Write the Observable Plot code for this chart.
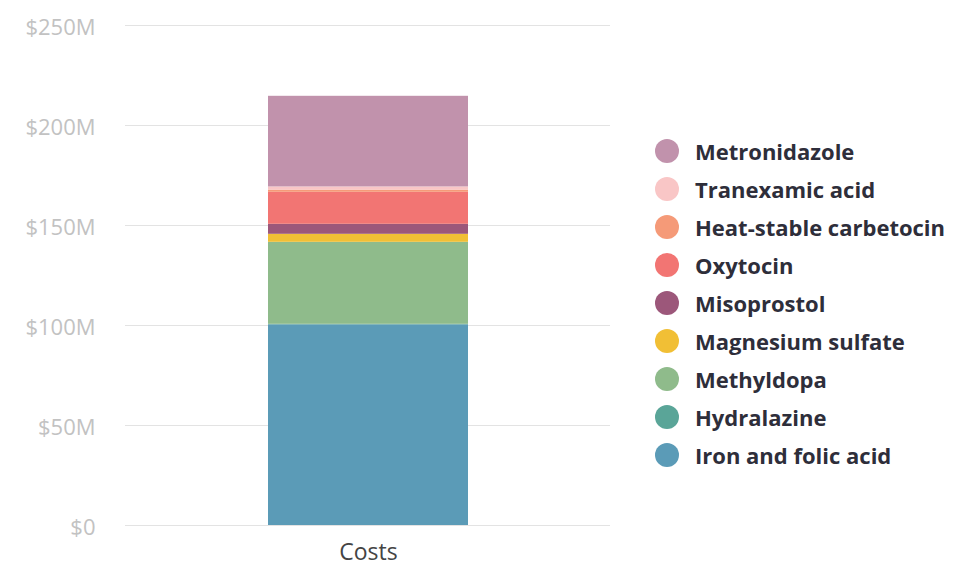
<!DOCTYPE html>
<html>
<head>
<meta charset="utf-8">
<script src="https://cdn.jsdelivr.net/npm/d3@7"></script>
<script src="https://cdn.jsdelivr.net/npm/@observablehq/plot@0.6"></script>
<style>
  html, body { margin: 0; padding: 0; background: #fff; }
  #wrap { position: relative; width: 954px; height: 570px; font-family: "Open Sans", sans-serif; }
  #legend { position: absolute; left: 655px; top: 132px; }
  .item { display: flex; align-items: center; height: 38px; font-weight: 700; font-size: 22px; color: #2e2e3a; white-space: nowrap; }
  .sw { width: 24px; height: 24px; border-radius: 50%; margin-right: 16px; flex: none; }
</style>
</head>
<body>
<div id="wrap"></div>
<script>
// Drugs listed bottom-to-top of the stack
const drugs = ["Iron and folic acid", "Hydralazine", "Methyldopa", "Magnesium sulfate", "Misoprostol", "Oxytocin", "Heat-stable carbetocin", "Tranexamic acid", "Metronidazole"];
const costsM = [100.3, 0.3, 41, 4, 5, 16, 1.1, 1.6, 45.3]; // $ millions
const colors = ["#5b9bb7", "#5aa598", "#8fbb8b", "#f1bf35", "#9c577a", "#f27573", "#f59a78", "#f9c6c6", "#c192ac"];
const category = ["Costs"];
const yTicks = [0, 50, 100, 150, 200, 250];

const data = drugs.map((d, i) => ({ category: category[0], drug: d, value: costsM[i] }));
const fmt = d => d === 0 ? "$0" : `$${d}M`;

const chart = Plot.plot({
  width: 954,
  height: 570,
  marginLeft: 125,
  marginRight: 344,
  marginTop: 25,
  marginBottom: 45,
  style: { fontFamily: "'Open Sans', sans-serif", background: "#fff", overflow: "visible" },
  x: { domain: category, label: null, padding: 0.416 },
  y: { domain: [0, 250], label: null },
  color: { domain: drugs, range: colors },
  marks: [
    Plot.ruleY(yTicks, { stroke: "#e3e3e3", strokeWidth: 1 }),
    Plot.barY(data, { x: "category", y: "value", fill: "drug", order: drugs }),
    Plot.axisY({ ticks: yTicks, tickSize: 0, tickPadding: 30, tickFormat: fmt, fontSize: 22, fill: "#c2c2c2", label: null, dy: 2 }),
    Plot.axisX({ tickSize: 0, tickPadding: 18, fontSize: 23, fill: "#444", label: null })
  ]
});
document.getElementById("wrap").appendChild(chart);

const legend = document.createElement("div");
legend.id = "legend";
drugs.slice().reverse().forEach((d) => {
  const i = drugs.indexOf(d);
  const row = document.createElement("div");
  row.className = "item";
  const sw = document.createElement("span");
  sw.className = "sw";
  sw.style.background = colors[i];
  row.appendChild(sw);
  row.appendChild(document.createTextNode(d));
  legend.appendChild(row);
});
document.getElementById("wrap").appendChild(legend);
</script>
</body>
</html>
